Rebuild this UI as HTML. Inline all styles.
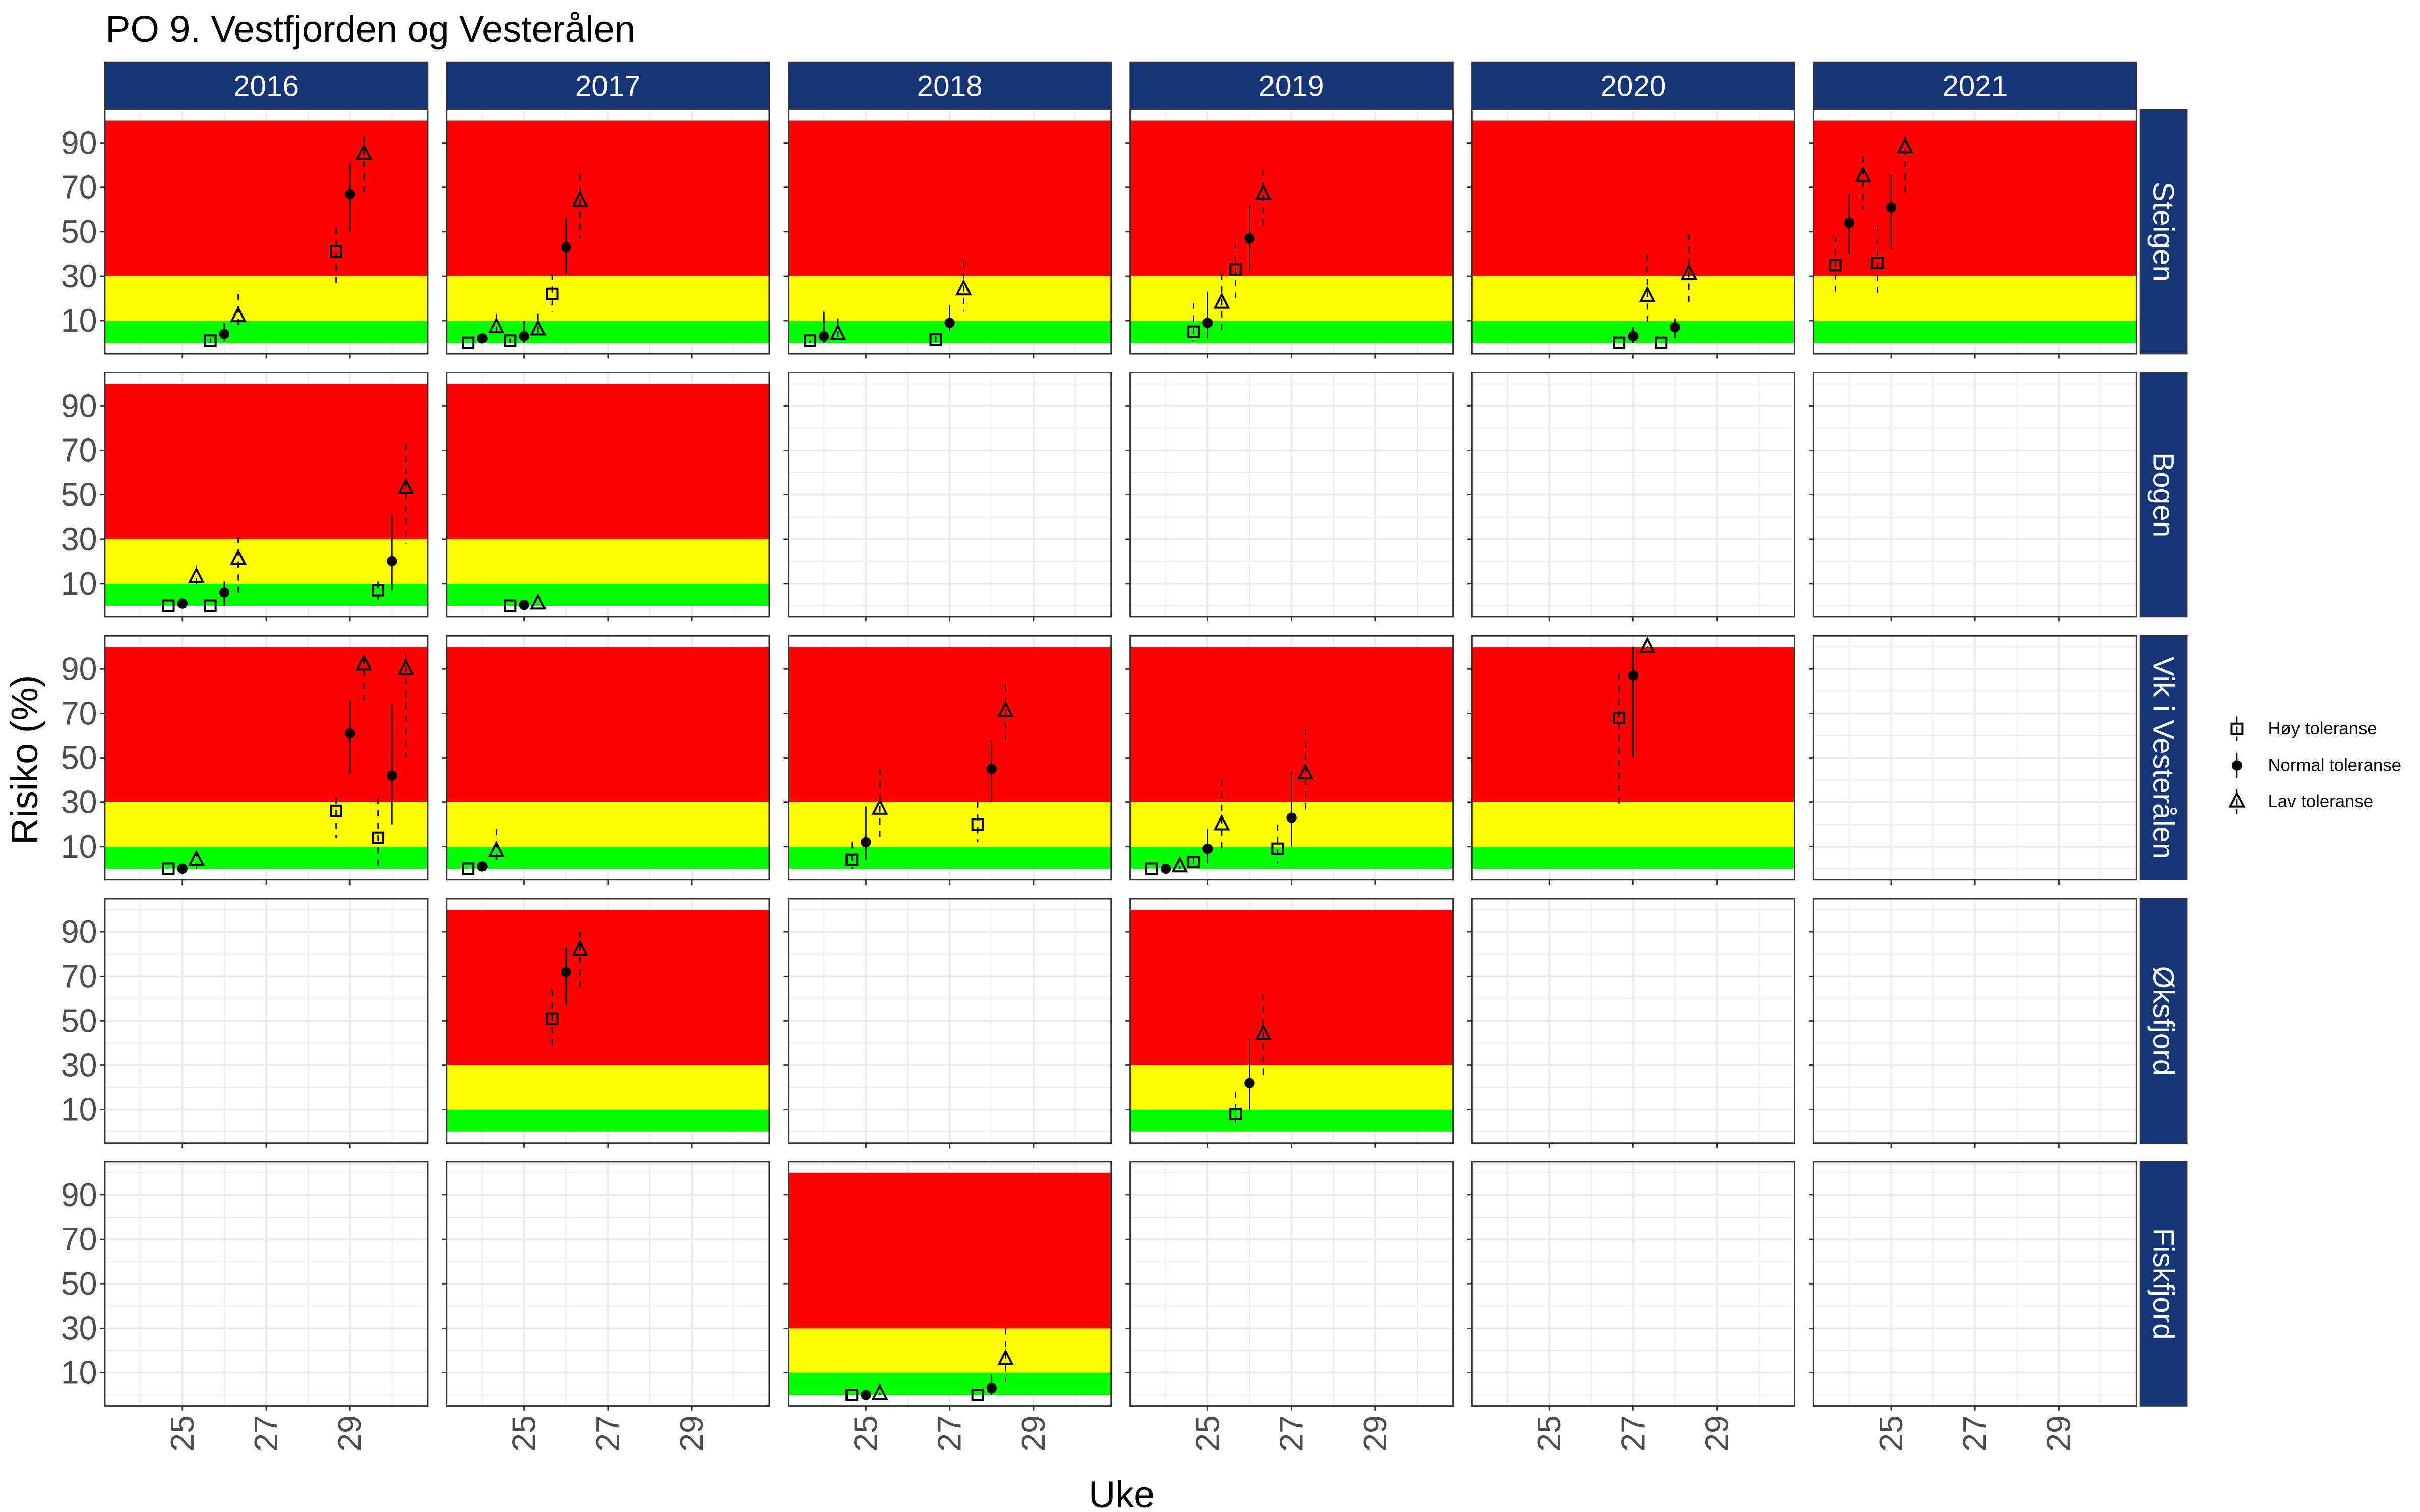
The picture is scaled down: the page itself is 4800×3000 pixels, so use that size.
<!DOCTYPE html>
<html>
<head>
<meta charset="utf-8">
<style>
html,body{margin:0;padding:0;background:#fff;}
svg{display:block;}
text{font-family:"Liberation Sans",Arial,sans-serif;}
</style>
</head>
<body>
<svg id="chart" width="4800" height="3000" viewBox="0 0 1560 975" xmlns="http://www.w3.org/2000/svg">
  <rect x="0" y="0" width="1560" height="975" fill="#ffffff"/>
  <text x="68" y="27" font-size="24" fill="#000">PO 9. Vestfjorden og Vesterålen</text>
  <text x="723" y="972" font-size="24" text-anchor="middle" fill="#000">Uke</text>
  <text transform="translate(24,490) rotate(-90)" font-size="24" text-anchor="middle" fill="#000">Risiko (%)</text>
  <g id="panels"></g>
  <g id="legend"></g>
</svg>
<script>
// ---- data ----
const years = [2016, 2017, 2018, 2019, 2020, 2021];
const regions = ["Steigen", "Bogen", "Vik i Vesterålen", "Øksfjord", "Fiskfjord"];
const yTicks = [10, 30, 50, 70, 90];
const xTicks = [25, 27, 29];
const seriesNames = ["Høy toleranse", "Normal toleranse", "Lav toleranse"];
// each row: [regionIndex, year, week, value, low, high]
const hoyData = [
  [0,2016,26,1,0,2],[0,2016,29,41,27,52],
  [0,2017,24,0,0,0],[0,2017,25,1,0,2],[0,2017,26,22,14,31],
  [0,2018,24,1,0,1],[0,2018,27,1.5,0,3],
  [0,2019,25,5,0.3,18],[0,2019,26,33,20,45],
  [0,2020,27,0,0,0],[0,2020,28,0,0,0],
  [0,2021,24,35,23,48],[0,2021,25,36,21,53],
  [1,2016,25,0,0,0],[1,2016,26,0,0,0],[1,2016,30,7,0,11],
  [1,2017,25,0,0,0],
  [2,2016,25,0,0,0],[2,2016,29,26,14,32],[2,2016,30,14,0,32],
  [2,2017,24,0,0,0],
  [2,2018,25,4,0,12],[2,2018,28,20,12,30],
  [2,2019,24,0,0,0],[2,2019,25,3,0,5],[2,2019,27,9,2,20],
  [2,2020,27,68,28,88],
  [3,2017,26,51,39,64],
  [3,2019,26,8,1,18],
  [4,2018,25,0,0,0],[4,2018,28,0,0,0]
];
const normalData = [
  [0,2016,26,4,1,9],[0,2016,29,67,50,81],
  [0,2017,24,2,0,4],[0,2017,25,3,0,10],[0,2017,26,43,31,56],
  [0,2018,24,3,0,14],[0,2018,27,9,5,17],
  [0,2019,25,9,2,23],[0,2019,26,47,33,62],
  [0,2020,27,3,0,7],[0,2020,28,7,2,11],
  [0,2021,24,54,40,67],[0,2021,25,61,42,76],
  [1,2016,25,1,0,1],[1,2016,26,6,0,11],[1,2016,30,20,7,41],
  [1,2017,25,0.4,0,0.4],
  [2,2016,25,0,0,0],[2,2016,29,61,43,76],[2,2016,30,42,20,74],
  [2,2017,24,1,0,1],
  [2,2018,25,12,4,28],[2,2018,28,45,30,58],
  [2,2019,24,0,0,0],[2,2019,25,9,2,18],[2,2019,27,23,10,44],
  [2,2020,27,87,50,100],
  [3,2017,26,72,57,83],
  [3,2019,26,22,10,42],
  [4,2018,25,0,0,0],[4,2018,28,3,0,9]
];
const lavData = [
  [0,2016,26,12,6,22],[0,2016,29,85,68,93],
  [0,2017,24,7,2,13],[0,2017,25,6,2,13],[0,2017,26,64,47,76],
  [0,2018,24,4,0,11],[0,2018,27,24,14,37],
  [0,2019,25,18,6,31],[0,2019,26,67,53,78],
  [0,2020,27,21,9,40],[0,2020,28,31,16,49],
  [0,2021,24,75,60,84],[0,2021,25,88,68,93],
  [1,2016,25,13,8,18],[1,2016,26,21,6,31],[1,2016,30,53,28,73],
  [1,2017,25,1,1,1],
  [2,2016,25,4,0,8],[2,2016,29,92,76,95],[2,2016,30,90,50,97],
  [2,2017,24,8,3,18],
  [2,2018,25,27,12,45],[2,2018,28,71,55,83],
  [2,2019,24,1,0,1],[2,2019,25,20,8,40],[2,2019,27,43,24,63],
  [2,2020,27,100,100,100],
  [3,2017,26,82,65,90],
  [3,2019,26,44,23,62],
  [4,2018,25,0.5,0,1],[4,2018,28,16,6,30]
];
const bands = [[0,10,"#00ff00"],[10,30,"#ffff00"],[30,100,"#ff0000"]];

// ---- layout ----
const NS = "http://www.w3.org/2000/svg";
const PX0 = 67.6, PPITCH = 220.3, PW = 208;
const PY0 = 70.7, RPITCH = 169.6, PH = 157.5;
const XMIN = 23.15, XMAX = 30.85, YMIN = -5, YMAX = 105;
const DODGE = 1/3;
function colLeft(c){ return PX0 + c*PPITCH; }
function rowTop(r){ return PY0 + r*RPITCH; }
function xScale(c, w){ return colLeft(c) + (w - XMIN)/(XMAX - XMIN)*PW; }
function yScale(r, v){ return rowTop(r) + (YMAX - v)/(YMAX - YMIN)*PH; }
function mk(tag, attrs, parent){
  const e = document.createElementNS(NS, tag);
  for (const k in attrs) e.setAttribute(k, attrs[k]);
  if (parent) parent.appendChild(e);
  return e;
}
const root = document.getElementById("panels");

// which panels have data
const hasData = {};
[hoyData, normalData, lavData].forEach(arr => arr.forEach(d => { hasData[d[0]+"_"+d[1]] = true; }));

// year strips
years.forEach((yr, c) => {
  const g = mk("g", {}, root);
  
  
  mk("rect", {x: colLeft(c), y: 40.3, width: PW, height: 30, fill: "#15357b", stroke: "#333", "stroke-width": 0.8}, g);
  const t = mk("text", {x: colLeft(c) + PW/2, y: 55.5, "font-size": 19, fill: "#fff", "text-anchor": "middle", "dominant-baseline": "central"}, g);
  t.textContent = yr;
});

// region strips
regions.forEach((rg, r) => {
  const g = mk("g", {}, root);
  
  
  const x0 = colLeft(5) + PW + 2.5;
  mk("rect", {x: x0, y: rowTop(r), width: 30, height: PH, fill: "#15357b", stroke: "#333", "stroke-width": 0.8}, g);
  const cx = x0 + 15, cy = rowTop(r) + PH/2;
  const t = mk("text", {transform: "translate(" + cx + "," + cy + ") rotate(90)", "font-size": 19, fill: "#fff", "text-anchor": "middle", "dominant-baseline": "central"}, g);
  t.textContent = rg;
});

// panels
regions.forEach((rg, r) => {
  years.forEach((yr, c) => {
    const g = mk("g", {}, root);
    
    
    const L = colLeft(c), T = rowTop(r);
    mk("rect", {x: L, y: T, width: PW, height: PH, fill: "#fff"}, g);
    // minor grid
    for (let v = 0; v <= 100; v += 20) {
      mk("line", {x1: L, x2: L+PW, y1: yScale(r,v), y2: yScale(r,v), stroke: "#ebebeb", "stroke-width": 0.6}, g);
    }
    for (let w = 24; w <= 30; w += 2) {
      mk("line", {x1: xScale(c,w), x2: xScale(c,w), y1: T, y2: T+PH, stroke: "#ebebeb", "stroke-width": 0.6}, g);
    }
    yTicks.forEach(v => mk("line", {x1: L, x2: L+PW, y1: yScale(r,v), y2: yScale(r,v), stroke: "#ebebeb", "stroke-width": 1.2}, g));
    xTicks.forEach(w => mk("line", {x1: xScale(c,w), x2: xScale(c,w), y1: T, y2: T+PH, stroke: "#ebebeb", "stroke-width": 1.2}, g));
    // bands
    if (hasData[r + "_" + yr]) {
      bands.forEach(b => {
        const band = mk("rect", {x: L, y: yScale(r,b[1]), width: PW, height: yScale(r,b[0]) - yScale(r,b[1]), fill: b[2]}, g);
        
        
      });
    }
    // border
    mk("rect", {x: L, y: T, width: PW, height: PH, fill: "none", stroke: "#333", "stroke-width": 0.9}, g);
    // ticks
    yTicks.forEach(v => mk("line", {x1: L-3, x2: L, y1: yScale(r,v), y2: yScale(r,v), stroke: "#333", "stroke-width": 0.9}, g));
    xTicks.forEach(w => mk("line", {x1: xScale(c,w), x2: xScale(c,w), y1: T+PH, y2: T+PH+3, stroke: "#333", "stroke-width": 0.9}, g));
    if (c === 0) {
      yTicks.forEach(v => {
        const t = mk("text", {x: L-5, y: yScale(r,v), "font-size": 21, fill: "#4d4d4d", "text-anchor": "end", "dominant-baseline": "central"}, g);
        
        
        t.textContent = v;
      });
    }
    if (r === regions.length - 1) {
      xTicks.forEach(w => {
        const xx = xScale(c,w), yy = T + PH + 6;
        const t = mk("text", {transform: "translate(" + xx + "," + yy + ") rotate(-90)", "font-size": 21, fill: "#4d4d4d", "text-anchor": "end", "dominant-baseline": "central"}, g);
        
        
        t.textContent = w;
      });
    }
  });
});

// ---- marks ----
function drawShape(g, kind, cx, cy){
  if (kind === 0) {
    return mk("rect", {x: cx-3.4, y: cy-3.4, width: 6.8, height: 6.8, fill: "none", stroke: "#000", "stroke-width": 1.3}, g);
  } else if (kind === 1) {
    return mk("circle", {cx: cx, cy: cy, r: 3.3, fill: "#000"}, g);
  }
  return mk("polygon", {points: (cx)+","+(cy-5.2)+" "+(cx-4.3)+","+(cy+3.2)+" "+(cx+4.3)+","+(cy+3.2), fill: "none", stroke: "#000", "stroke-width": 1.3, "stroke-linejoin": "miter"}, g);
}
const allSeries = [hoyData, normalData, lavData];
const offsets = [-DODGE, 0, DODGE];
const dashes = ["4,4", "none", "4,4"];
allSeries.forEach((arr, s) => {
  const sg = mk("g", {}, root);
  
  
  arr.forEach(d => {
    const r = d[0], c = years.indexOf(d[1]);
    const cx = xScale(c, d[2] + offsets[s]);
    const eb = mk("line", {x1: cx, x2: cx, y1: yScale(r, d[5]), y2: yScale(r, d[4]), stroke: "#000", "stroke-width": 0.85, "stroke-dasharray": dashes[s]}, sg);
    
    
    const p = drawShape(sg, s, cx, yScale(r, d[3]));
    
    
  });
});

// ---- legend ----
const lg = document.getElementById("legend");
const legendY = [470, 493.5, 517];
seriesNames.forEach((nm, s) => {
  const g = mk("g", {}, lg);
  
  
  const cx = 1442, cy = legendY[s];
  mk("line", {x1: cx, x2: cx, y1: cy-8, y2: cy+8, stroke: "#000", "stroke-width": 0.9, "stroke-dasharray": s === 1 ? "none" : "4,2.5"}, g);
  drawShape(g, s, cx, cy);
  const t = mk("text", {x: 1462, y: cy, "font-size": 11.3, fill: "#000", "dominant-baseline": "central"}, g);
  t.textContent = nm;
});
</script>
</body>
</html>
